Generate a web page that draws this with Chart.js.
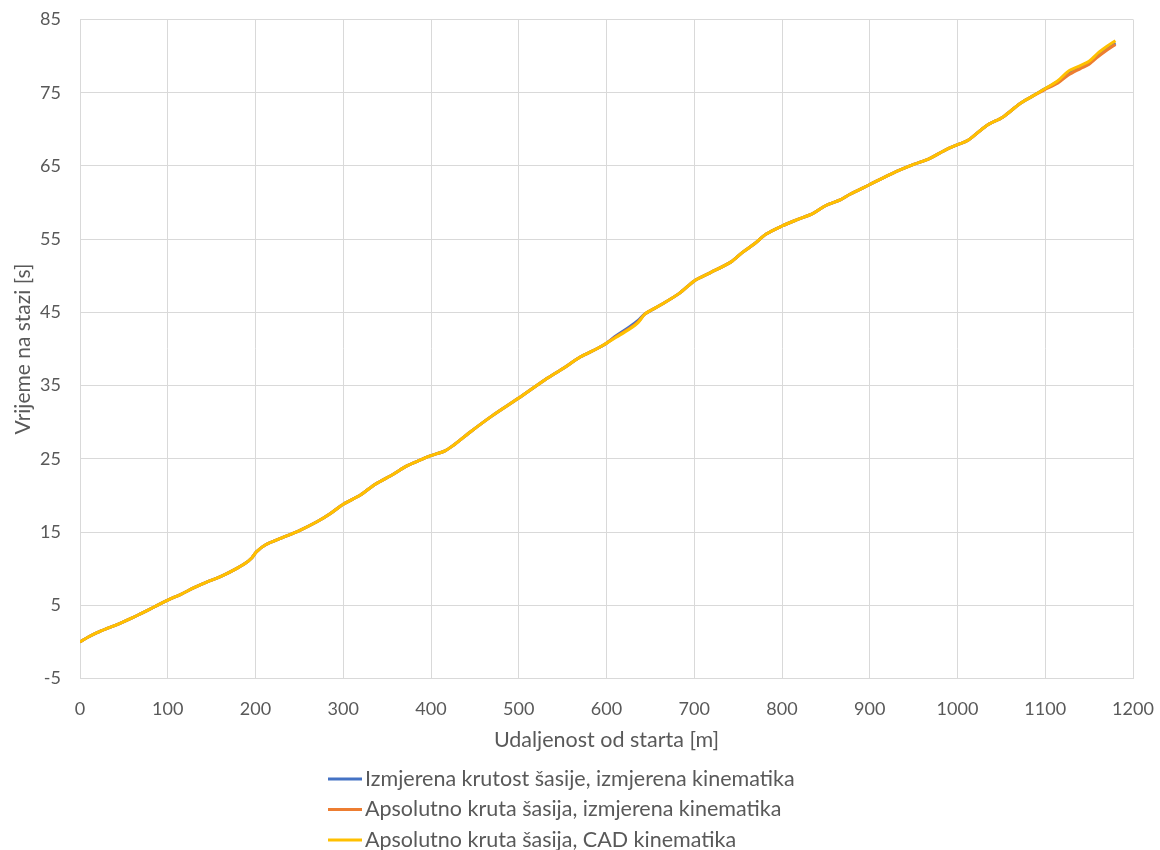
<!DOCTYPE html>
<html>
<head>
<meta charset="utf-8">
<script src="https://cdn.jsdelivr.net/npm/chart.js@4/dist/chart.umd.min.js"></script>
<style>
  body { margin: 0; background: #fff; }
  #chart { display: block; }
</style>
</head>
<body>
<canvas id="chart" width="1160" height="850"></canvas>
<script>
// udaljenost od starta [m]
const distance = [0, 10, 20, 30, 45, 60, 70, 85, 100, 115,
  130, 145, 160, 175, 188, 196, 201, 212, 230, 250,
  270, 285, 300, 320, 336, 357, 372, 385, 399, 416,
  425, 444, 470, 500, 530, 550, 570, 590, 600, 611,
  626, 636, 644, 660, 683, 700, 718, 742, 755, 769,
  782, 800, 818, 835, 850, 867, 877, 899, 926, 950,
  968, 985, 1000, 1012, 1033, 1052, 1071, 1085, 1099, 1114,
  1126, 1140, 1150, 1160, 1170, 1180];

// vrijeme [s]
const measuredStiffness = [0.0, 0.7, 1.3, 1.8, 2.5, 3.3, 3.9, 4.8, 5.7, 6.5,
  7.4, 8.2, 8.9, 9.8, 10.7, 11.5, 12.3, 13.3, 14.2, 15.2,
  16.4, 17.5, 18.8, 20.1, 21.5, 22.9, 24.0, 24.7, 25.4, 26.1,
  26.8, 28.6, 30.9, 33.3, 35.8, 37.3, 38.9, 40.1, 40.8, 41.8,
  43.0, 43.9, 44.8, 45.9, 47.6, 49.3, 50.4, 51.9, 53.2, 54.4,
  55.7, 56.8, 57.7, 58.5, 59.6, 60.4, 61.1, 62.4, 64.0, 65.2,
  66.0, 67.1, 67.9, 68.5, 70.5, 71.7, 73.5, 74.5, 75.5, 76.5,
  77.6, 78.5, 79.1, 80.1, 81.0, 81.8];

const rigidMeasured = [0.0, 0.7, 1.3, 1.8, 2.5, 3.3, 3.9, 4.8, 5.7, 6.5,
  7.4, 8.2, 8.9, 9.8, 10.7, 11.5, 12.3, 13.3, 14.2, 15.2,
  16.4, 17.5, 18.8, 20.1, 21.5, 22.9, 24.0, 24.7, 25.4, 26.1,
  26.8, 28.6, 30.9, 33.3, 35.8, 37.3, 38.9, 40.1, 40.8, 41.7,
  42.8, 43.7, 44.8, 45.9, 47.6, 49.3, 50.4, 51.9, 53.2, 54.4,
  55.7, 56.8, 57.7, 58.5, 59.6, 60.4, 61.1, 62.4, 64.0, 65.2,
  66.0, 67.1, 67.9, 68.5, 70.5, 71.7, 73.5, 74.5, 75.4, 76.3,
  77.4, 78.3, 78.9, 79.9, 80.8, 81.6];

const rigidCad = [0.0, 0.7, 1.3, 1.8, 2.5, 3.3, 3.9, 4.8, 5.7, 6.5,
  7.4, 8.2, 8.9, 9.8, 10.7, 11.5, 12.3, 13.3, 14.2, 15.2,
  16.4, 17.5, 18.8, 20.1, 21.5, 22.9, 24.0, 24.7, 25.4, 26.1,
  26.8, 28.6, 30.9, 33.3, 35.8, 37.3, 38.9, 40.1, 40.8, 41.6,
  42.7, 43.6, 44.8, 45.9, 47.6, 49.3, 50.4, 51.9, 53.2, 54.4,
  55.7, 56.8, 57.7, 58.5, 59.6, 60.4, 61.1, 62.4, 64.0, 65.2,
  66.0, 67.1, 67.9, 68.5, 70.5, 71.7, 73.5, 74.5, 75.5, 76.6,
  77.9, 78.7, 79.3, 80.4, 81.3, 82.1];

const seriesNames = [
  'Izmjerena krutost šasije, izmjerena kinematika',
  'Apsolutno kruta šasija, izmjerena kinematika',
  'Apsolutno kruta šasija, CAD kinematika'
];
const seriesColors = ['#4472C4', '#ED7D31', '#FFC000'];

const FONT = 'Lato, "Open Sans", sans-serif';
const TEXT = '#595959';
const GRID = '#D9D9D9';

function toPoints(ys) {
  return distance.map((d, i) => ({ x: d, y: ys[i] }));
}

// legenda ispod grafa, jedna stavka po retku
const stackedLegend = {
  id: 'stackedLegend',
  afterDraw(chart) {
    const ctx = chart.ctx;
    ctx.save();
    ctx.font = '21.5px ' + FONT;
    ctx.textBaseline = 'middle';
    chart.data.datasets.forEach((ds, i) => {
      const y = 779 + i * 30.5;
      ctx.strokeStyle = ds.borderColor;
      ctx.lineWidth = 3;
      ctx.beginPath();
      ctx.moveTo(328, y);
      ctx.lineTo(362, y);
      ctx.stroke();
      ctx.fillStyle = TEXT;
      ctx.fillText(ds.label, 365, y);
    });
    ctx.restore();
  }
};

new Chart(document.getElementById('chart'), {
  type: 'line',
  data: {
    datasets: [
      { label: seriesNames[0], data: toPoints(measuredStiffness), order: 3 },
      { label: seriesNames[1], data: toPoints(rigidMeasured), order: 2 },
      { label: seriesNames[2], data: toPoints(rigidCad), order: 1 }
    ].map((ds, i) => Object.assign(ds, {
      borderColor: seriesColors[i],
      backgroundColor: seriesColors[i],
      borderWidth: 3,
      pointRadius: 0,
      tension: 0.3,
      fill: false
    }))
  },
  options: {
    responsive: false,
    animation: false,
    layout: { padding: { top: 19.5, right: 27, bottom: 91.5, left: 0 } },
    plugins: {
      legend: { display: false },
      tooltip: { enabled: false }
    },
    scales: {
      x: {
        type: 'linear',
        min: 0,
        max: 1200,
        afterFit: (scale) => { scale.height = 80; },
        ticks: { stepSize: 100, padding: 0, color: TEXT, font: { family: FONT, size: 18 }, maxRotation: 0,
          callback: (v) => String(v) },
        // nevidljive crtice samo odmiču oznake od osi
        grid: { color: GRID, drawTicks: true, tickLength: 20, tickColor: 'rgba(0,0,0,0)' },
        border: { color: GRID },
        title: { display: true, text: 'Udaljenost od starta [m]', color: TEXT, font: { family: FONT, size: 21.5 }, padding: { top: 0, bottom: 6 } }
      },
      y: {
        min: -5,
        max: 85,
        afterFit: (scale) => { scale.width = 80; },
        ticks: { stepSize: 10, padding: 0, color: TEXT, font: { family: FONT, size: 18 },
          callback: (v) => String(v) },
        grid: { color: GRID, drawTicks: true, tickLength: 19, tickColor: 'rgba(0,0,0,0)' },
        border: { color: GRID },
        title: { display: true, text: 'Vrijeme na stazi [s]', color: TEXT, font: { family: FONT, size: 21 }, padding: { top: 11, bottom: 0 } }
      }
    }
  },
  plugins: [stackedLegend]
});
</script>
</body>
</html>
